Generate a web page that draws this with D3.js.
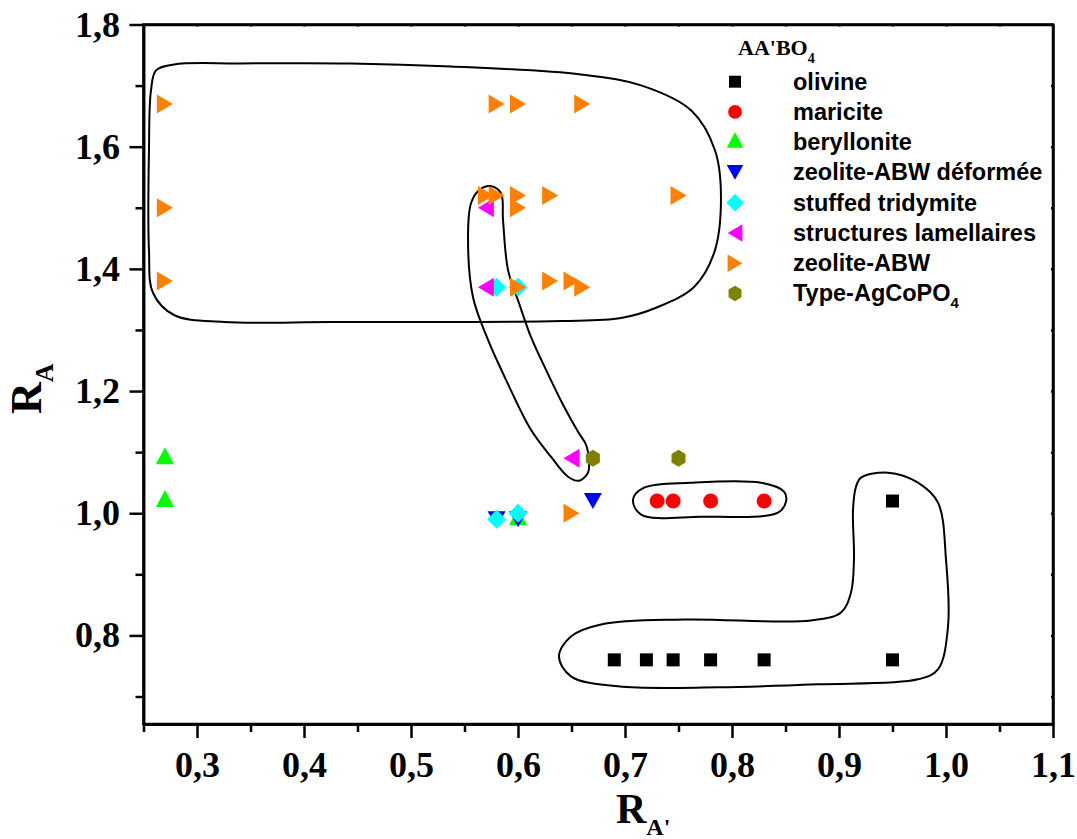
<!DOCTYPE html>
<html><head><meta charset="utf-8">
<script src="https://cdn.jsdelivr.net/npm/d3@7"></script>
<style>body{margin:0;background:#fff}svg{display:block}</style>
</head><body>
<svg id="chart" width="1077" height="839"></svg>
<script>
// ---- data ----
const seriesNames = ["olivine","maricite","beryllonite","zeolite-ABW déformée","stuffed tridymite","structures lamellaires","zeolite-ABW","Type-AgCoPO4"];
const seriesColors = ["#000000","#ff0000","#00ff00","#0000ff","#00ffff","#ff00ff","#ff8000","#808000"];
const olivineX = [0.69,0.72,0.745,0.78,0.83,0.95,0.95];
const olivineY = [0.76,0.76,0.76,0.76,0.76,0.76,1.02];
const mariciteX = [0.73,0.745,0.78,0.83];
const mariciteY = [1.02,1.02,1.02,1.02];
const beryllX = [0.27,0.27,0.60];
const beryllY = [1.09,1.02,0.99];
const zeoDefX = [0.58,0.60,0.67];
const zeoDefY = [0.99,0.99,1.02];
const stuffedX = [0.58,0.60,0.58,0.60];
const stuffedY = [1.37,1.37,0.99,1.00];
const lamelX = [0.57,0.57,0.65];
const lamelY = [1.50,1.37,1.09];
const zeoX = [0.27,0.27,0.27,0.58,0.60,0.66,0.57,0.58,0.60,0.60,0.63,0.75,0.60,0.63,0.65,0.66,0.65];
const zeoY = [1.67,1.50,1.38,1.67,1.67,1.67,1.52,1.52,1.52,1.50,1.52,1.52,1.37,1.38,1.38,1.37,1.00];
const agcoX = [0.67,0.75];
const agcoY = [1.09,1.09];
const xTickValues = [0.3,0.4,0.5,0.6,0.7,0.8,0.9,1.0,1.1];
const xTickLabels = ["0,3","0,4","0,5","0,6","0,7","0,8","0,9","1,0","1,1"];
const xMinorTicks = [0.25,0.35,0.45,0.55,0.65,0.75,0.85,0.95,1.05];
const yTickValues = [0.8,1.0,1.2,1.4,1.6,1.8];
const yTickLabels = ["0,8","1,0","1,2","1,4","1,6","1,8"];
const yMinorTicks = [0.7,0.9,1.1,1.3,1.5,1.7];
// hand-drawn enclosing loops (data coordinates)
const loopZeolite = [[0.2617,1.7248],[0.2785,1.7346],[0.3411,1.7363],[0.4439,1.7363],[0.5374,1.7314],[0.6589,1.7183],[0.7150,1.7003],[0.7617,1.6595],[0.7841,1.5941],[0.7897,1.5124],[0.7832,1.4258],[0.7645,1.3703],[0.7308,1.3376],[0.6963,1.3196],[0.6402,1.3147],[0.5280,1.3131],[0.4252,1.3131],[0.3252,1.3131],[0.2785,1.3245],[0.2589,1.3605],[0.2551,1.4307],[0.2551,1.5941],[0.2570,1.6922]];
const loopLamel = [[0.5748,1.5353],[0.5841,1.5239],[0.5860,1.4797],[0.5907,1.3980],[0.6009,1.3441],[0.6121,1.2886],[0.6262,1.2346],[0.6421,1.1775],[0.6561,1.1333],[0.6636,1.1121],[0.6664,1.0827],[0.6654,1.0663],[0.6570,1.0533],[0.6467,1.0598],[0.6308,1.0925],[0.6121,1.1366],[0.5888,1.2183],[0.5720,1.2837],[0.5579,1.3539],[0.5533,1.4520],[0.5561,1.5075],[0.5636,1.5288]];
const loopMaricite = [[0.7075,1.0222],[0.7178,1.0418],[0.7617,1.0500],[0.8271,1.0500],[0.8486,1.0353],[0.8505,1.0190],[0.8430,1.0010],[0.7710,0.9944],[0.7150,0.9977]];
const loopOlivine = [[0.9206,1.0582],[0.9458,1.0663],[0.9738,1.0500],[0.9925,1.0173],[1.0000,0.9242],[1.0019,0.8147],[0.9925,0.7444],[0.9738,0.7281],[0.8804,0.7199],[0.7869,0.7150],[0.6935,0.7167],[0.6495,0.7330],[0.6383,0.7657],[0.6495,0.7984],[0.6776,0.8180],[0.7551,0.8261],[0.8738,0.8245],[0.9019,0.8376],[0.9112,0.8703],[0.9140,0.9242],[0.9131,1.0059],[0.9159,1.0435]];

// ---- setup ----
const svg = d3.select("#chart");
const x = d3.scaleLinear().domain([0.25,1.1]).range([143.5,1053]);
const y = d3.scaleLinear().domain([0.655,1.8]).range([724,24.5]);

const shapes = {
  square: "M-6.5,-6.5H6.5V6.5H-6.5Z",
  circle: "M7.5,0A7.5,7.5 0 1,1 -7.5,0A7.5,7.5 0 1,1 7.5,0Z",
  up: "M0,-11L9,6L-9,6Z",
  down: "M0,8L9,-8L-9,-8Z",
  diamond: "M0,-9.5L9.5,0L0,9.5L-9.5,0Z",
  left: "M-8,0L8,-9.5L8,9.5Z",
  right: "M8,0L-8,-9.5L-8,9.5Z",
  hex: "M0,-8.5L7,-4.25L7,4.25L0,8.5L-7,4.25L-7,-4.25Z"
};
const seriesShapes = ["square","circle","up","down","diamond","left","right","hex"];
const seriesData = [[olivineX,olivineY],[mariciteX,mariciteY],[beryllX,beryllY],[zeoDefX,zeoDefY],[stuffedX,stuffedY],[lamelX,lamelY],[zeoX,zeoY],[agcoX,agcoY]];

// frame
svg.append("rect").attr("x",x(0.25)).attr("y",y(1.8)).attr("width",x(1.1)-x(0.25)).attr("height",y(0.655)-y(1.8))
  .attr("fill","none").attr("stroke","#000").attr("stroke-width",2.5);

// loops
const loopLine = d3.line().x(d=>x(d[0])).y(d=>y(d[1])).curve(d3.curveCatmullRomClosed.alpha(0.5));
[loopZeolite,loopLamel,loopMaricite,loopOlivine].forEach(l=>{
  svg.append("path").attr("d",loopLine(l)).attr("fill","none").attr("stroke","#000").attr("stroke-width",2);
});

// points
seriesData.forEach((s,i)=>{
  const pts = s[0].map((v,j)=>[v,s[1][j]]);
  svg.append("g").selectAll("path").data(pts).join("path")
    .attr("d",shapes[seriesShapes[i]])
    .attr("transform",d=>`translate(${x(d[0])},${y(d[1])})`)
    .attr("fill",seriesColors[i]);
});

// axes
const serif = "'Liberation Serif','Times New Roman',serif";
const sans = "'Liberation Sans',Arial,sans-serif";
const gx = svg.append("g").attr("transform",`translate(0,${y(0.655)})`)
  .call(d3.axisBottom(x).tickValues(xTickValues).tickSize(14).tickSizeOuter(0).tickFormat((d,i)=>xTickLabels[i]));
gx.append("g").call(d3.axisBottom(x).tickValues(xMinorTicks).tickSize(8).tickSizeOuter(0).tickFormat(""));
const gy = svg.append("g").attr("transform",`translate(${x(0.25)},0)`)
  .call(d3.axisLeft(y).tickValues(yTickValues).tickSize(14).tickSizeOuter(0).tickFormat((d,i)=>yTickLabels[i]));
gy.append("g").call(d3.axisLeft(y).tickValues(yMinorTicks).tickSize(8).tickSizeOuter(0).tickFormat(""));
// tiny inner ticks on top / right
svg.append("g").attr("transform",`translate(0,${y(1.8)})`)
  .call(d3.axisBottom(x).tickValues(xTickValues.concat(xMinorTicks)).tickSize(2).tickSizeOuter(0).tickFormat(""));
svg.append("g").attr("transform",`translate(${x(1.1)},0)`)
  .call(d3.axisRight(y).tickValues(yTickValues.concat(yMinorTicks)).tickSize(-2).tickSizeOuter(0).tickFormat(""));
svg.selectAll(".domain").attr("stroke","#000").attr("stroke-width",2.5);
svg.selectAll(".tick line").attr("stroke","#000").attr("stroke-width",2.5);
gx.selectAll(".tick text").attr("y",53).attr("dy",null)
  .attr("font-family",serif).attr("font-weight","bold").attr("font-size",36).attr("fill","#000");
gy.selectAll(".tick text").attr("x",-23.5)
  .attr("font-family",serif).attr("font-weight","bold").attr("font-size",36).attr("fill","#000");

// axis titles
const xt = svg.append("text").attr("x",616).attr("y",823).attr("font-family",serif).attr("font-weight","bold").attr("font-size",42);
xt.append("tspan").text("R");
xt.append("tspan").attr("font-size",24).attr("dy",12).text("A'");
const yt = svg.append("text").attr("transform","translate(41,414) rotate(-90)").attr("font-family",serif).attr("font-weight","bold").attr("font-size",44);
yt.append("tspan").text("R");
yt.append("tspan").attr("font-size",26).attr("dy",12).text("A");

// legend
const lt = svg.append("text").attr("x",738).attr("y",55).attr("font-family",serif).attr("font-weight","bold").attr("font-size",22);
lt.append("tspan").text("AA'BO");
lt.append("tspan").attr("font-size",14).attr("dy",8).text("4");
const legendY0 = 81.7, legendStep = 30.25;
seriesNames.forEach((n,i)=>{
  const ly = legendY0 + i*legendStep;
  svg.append("path").attr("d",shapes[seriesShapes[i]]).attr("transform",`translate(735,${ly}) scale(0.92)`).attr("fill",seriesColors[i]);
  const t = svg.append("text").attr("x",793).attr("y",ly+8).attr("font-family",sans).attr("font-weight","bold").attr("font-size",23.5).attr("fill","#000");
  if (n === "Type-AgCoPO4") {
    t.append("tspan").text("Type-AgCoPO");
    t.append("tspan").attr("font-size",15).attr("dy",7).text("4");
  } else t.text(n);
});
</script>
</body></html>
